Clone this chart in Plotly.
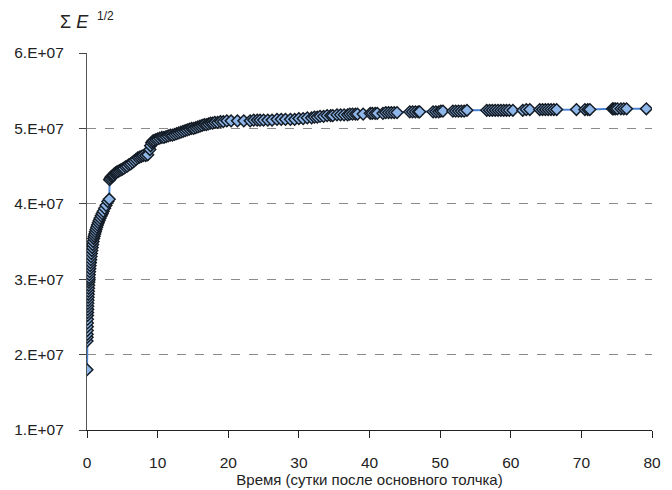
import plotly.graph_objects as go

# Time after the main shock, days
days = [
    0.00, 0.01, 0.02, 0.03, 0.04, 0.05, 0.06, 0.07, 0.08, 0.09,
    0.10, 0.11, 0.12, 0.14, 0.16, 0.18, 0.20, 0.22, 0.24, 0.26,
    0.28, 0.30, 0.33, 0.36, 0.40, 0.44, 0.48, 0.52, 0.57, 0.62,
    0.68, 0.74, 0.80, 0.87, 0.94, 1.02, 1.10, 1.19, 1.28, 1.38,
    1.48, 1.60, 1.72, 1.85, 2.00, 2.15, 2.30, 2.50, 2.70, 2.95,
    3.15, 3.20, 3.30, 3.45, 3.60, 3.75, 3.90, 4.05, 4.20, 4.40,
    4.60, 4.80, 5.00, 5.20, 5.45, 5.70, 5.95, 6.20, 6.45, 6.70,
    6.95, 7.20, 7.45, 7.70, 7.95, 8.30, 8.60, 8.90, 9.00, 9.15,
    9.30, 9.50, 9.75, 10.0, 10.3, 10.6, 10.9, 11.2, 11.5, 11.8,
    12.1, 12.4, 12.7, 13.0, 13.3, 13.6, 13.9, 14.2, 14.5, 14.8,
    15.1, 15.4, 15.7, 16.0, 16.3, 16.6, 16.9, 17.2, 17.5, 17.8,
    18.1, 18.5, 18.9, 19.3, 19.8, 20.4, 21.3, 22.2, 23.1, 23.6,
    24.1, 24.5, 25.0, 25.6, 26.2, 26.9, 27.5, 28.1, 28.8, 29.4,
    30.0, 30.6, 31.2, 31.8, 32.2, 32.6, 33.0, 33.5, 34.0, 34.5,
    34.8, 35.4, 35.9, 36.4, 36.9, 37.2, 37.6, 38.0, 38.3, 39.1,
    40.1, 40.4, 40.8, 41.1, 41.9, 42.3, 42.7, 43.1, 43.5, 43.9,
    45.7, 46.1, 46.5, 46.9, 47.1, 49.0, 49.4, 49.8, 50.1, 50.4,
    51.8, 52.2, 52.6, 53.0, 53.4, 53.8, 56.6, 57.0, 57.4, 57.8,
    58.2, 58.6, 59.0, 59.4, 59.8, 60.3, 61.7, 62.2, 62.7, 64.1,
    64.5, 64.9, 65.3, 65.7, 66.1, 66.5, 69.3, 70.5, 70.9, 71.2,
    74.4, 74.6, 74.8, 75.1, 75.6, 76.0, 76.4, 79.2,
]

# Cumulative Benioff strain, units of 1e7
benioff_e7 = [
    1.80, 2.18, 2.23, 2.27, 2.32, 2.37, 2.42, 2.47, 2.52, 2.56,
    2.60, 2.64, 2.68, 2.72, 2.76, 2.80, 2.84, 2.88, 2.92, 2.96,
    2.99, 3.02, 3.06, 3.10, 3.14, 3.18, 3.22, 3.26, 3.30, 3.34,
    3.38, 3.42, 3.46, 3.50, 3.54, 3.57, 3.60, 3.63, 3.66, 3.69,
    3.72, 3.75, 3.78, 3.81, 3.84, 3.87, 3.90, 3.94, 3.98, 4.03,
    4.06, 4.32, 4.34, 4.36, 4.37, 4.38, 4.40, 4.41, 4.42, 4.43,
    4.44, 4.45, 4.46, 4.47, 4.49, 4.50, 4.52, 4.53, 4.55, 4.57,
    4.59, 4.61, 4.62, 4.63, 4.64, 4.64, 4.65, 4.72, 4.77, 4.81,
    4.83, 4.84, 4.85, 4.86, 4.87, 4.88, 4.88, 4.89, 4.90, 4.91,
    4.91, 4.92, 4.93, 4.94, 4.95, 4.96, 4.97, 4.98, 4.99, 5.00,
    5.00, 5.01, 5.02, 5.03, 5.04, 5.05, 5.05, 5.06, 5.07, 5.07,
    5.08, 5.08, 5.09, 5.09, 5.10, 5.10, 5.10, 5.10, 5.10, 5.11,
    5.11, 5.11, 5.11, 5.11, 5.11, 5.12, 5.12, 5.12, 5.12, 5.12,
    5.13, 5.13, 5.14, 5.14, 5.15, 5.15, 5.16, 5.16, 5.17, 5.17,
    5.17, 5.18, 5.18, 5.18, 5.18, 5.19, 5.19, 5.19, 5.19, 5.19,
    5.20, 5.20, 5.20, 5.20, 5.20, 5.21, 5.21, 5.21, 5.21, 5.21,
    5.22, 5.22, 5.22, 5.22, 5.22, 5.22, 5.22, 5.22, 5.23, 5.23,
    5.23, 5.23, 5.23, 5.23, 5.23, 5.24, 5.24, 5.24, 5.24, 5.24,
    5.24, 5.24, 5.24, 5.24, 5.24, 5.24, 5.24, 5.25, 5.25, 5.25,
    5.25, 5.25, 5.25, 5.25, 5.25, 5.25, 5.25, 5.25, 5.25, 5.25,
    5.26, 5.26, 5.26, 5.26, 5.26, 5.26, 5.26, 5.26,
]

benioff = [v * 1e7 for v in benioff_e7]

y_tick_vals = [1e7, 2e7, 3e7, 4e7, 5e7, 6e7]
y_tick_text = ["1.E+07", "2.E+07", "3.E+07", "4.E+07", "5.E+07", "6.E+07"]
x_tick_vals = [0, 10, 20, 30, 40, 50, 60, 70, 80]

font_family = "Liberation Sans, Arial, sans-serif"

fig = go.Figure()
fig.add_trace(go.Scatter(
    x=days,
    y=benioff,
    mode="lines+markers",
    line=dict(color="#4a82d4", width=2),
    marker=dict(
        symbol="diamond",
        size=9,
        color="#8eb6e8",
        line=dict(color="#141c26", width=1.5),
    ),
    showlegend=False,
))

fig.update_layout(
    width=672,
    height=490,
    margin=dict(l=87, r=20, t=53, b=60),
    paper_bgcolor="white",
    plot_bgcolor="white",
    font=dict(family=font_family, size=15, color="#222222"),
    xaxis=dict(
        range=[0, 80],
        tickvals=x_tick_vals,
        ticks="outside",
        ticklen=7,
        tickcolor="#222222",
        showline=True,
        linecolor="#222222",
        linewidth=1.2,
        showgrid=False,
        zeroline=False,
        automargin=False,
        tickfont=dict(size=15.5),
        ticklabelstandoff=11,
        title=dict(text="Время (сутки после основного толчка)",
                   font=dict(size=15), standoff=0),
    ),
    yaxis=dict(
        range=[1e7, 6e7],
        tickvals=y_tick_vals,
        ticktext=y_tick_text,
        ticks="outside",
        ticklen=7,
        tickcolor="#444444",
        showline=True,
        linecolor="#555555",
        linewidth=1.2,
        showgrid=True,
        gridcolor="#8a8a8a",
        griddash="dash",
        gridwidth=1,
        zeroline=False,
        automargin=False,
        tickfont=dict(size=15.5),
        ticklabelstandoff=12,
    ),
    annotations=[
        # y-axis quantity: sum of E to the power 1/2
        dict(
            text="Σ <i>E</i>",
            x=58, y=22, xref="paper", yref="paper",
            xanchor="left", yanchor="middle",
            showarrow=False,
            font=dict(size=18, family=font_family, color="#222222"),
        ),
        dict(
            text="1/2",
            x=95, y=16, xref="paper", yref="paper",
            xanchor="left", yanchor="middle",
            showarrow=False,
            font=dict(size=12, family=font_family, color="#222222"),
        ),
    ],
)

# place the axis-label annotations in pixel terms of the plotting area
plot_w = 672 - 87 - 20
plot_h = 490 - 53 - 60
for ann in fig.layout.annotations:
    ann.x = (ann.x - 87) / plot_w
    ann.y = 1 + (53 - ann.y) / plot_h

fig.write_html("out.html")
